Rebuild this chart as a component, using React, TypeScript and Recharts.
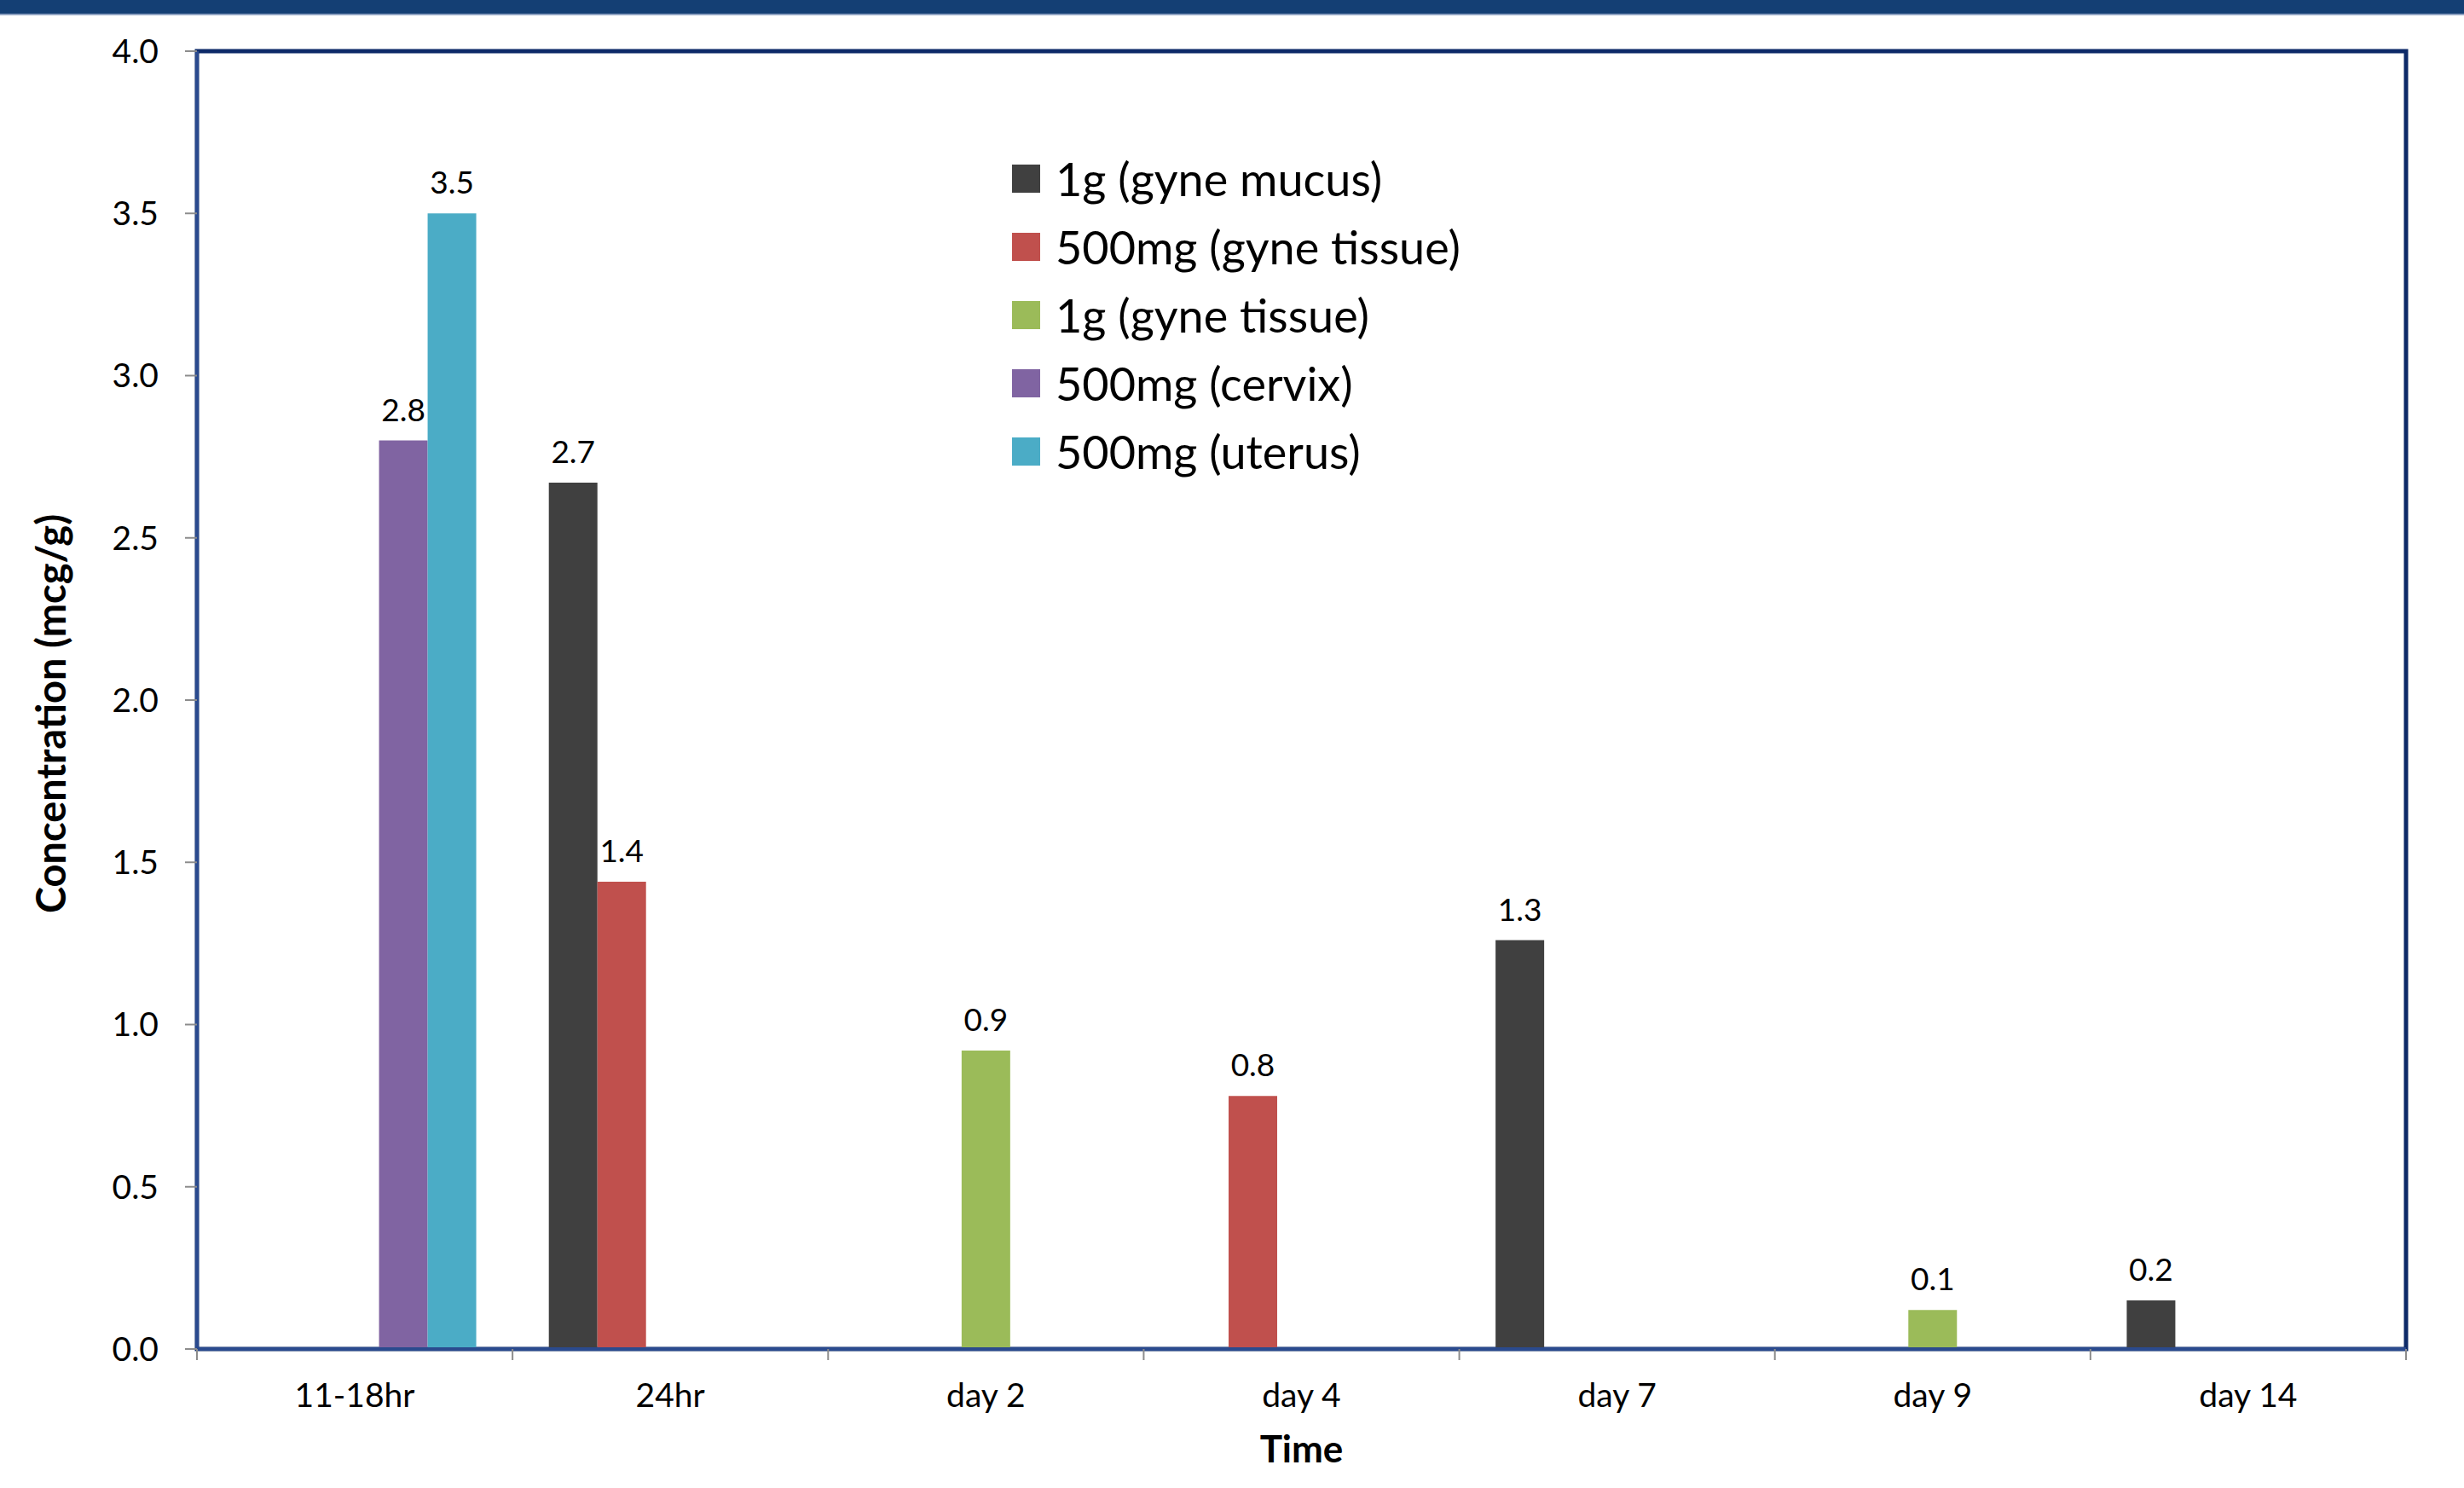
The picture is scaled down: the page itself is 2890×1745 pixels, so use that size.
import React from 'react';
import { BarChart, Bar, XAxis, YAxis, Legend, LabelList, ReferenceArea } from 'recharts';

const times = ['11-18hr', '24hr', 'day 2', 'day 4', 'day 7', 'day 9', 'day 14'];

const gyneMucus1g = [null, 2.67, null, null, 1.26, null, 0.15];
const gyneTissue500mg = [null, 1.44, null, 0.78, null, null, null];
const gyneTissue1g = [null, null, 0.92, null, null, 0.12, null];
const cervix500mg = [2.8, null, null, null, null, null, null];
const uterus500mg = [3.5, null, null, null, null, null, null];

const seriesKeys = ['mucus1g', 'tissue500mg', 'tissue1g', 'cervix500mg', 'uterus500mg'];
const seriesNames = [
  '1g (gyne mucus)',
  '500mg (gyne tissue)',
  '1g (gyne tissue)',
  '500mg (cervix)',
  '500mg (uterus)',
];
const seriesColors = ['#404040', '#C0504D', '#9BBB59', '#8064A2', '#4BACC6'];
const seriesValues = [gyneMucus1g, gyneTissue500mg, gyneTissue1g, cervix500mg, uterus500mg];

const yTicks = [0, 0.5, 1, 1.5, 2, 2.5, 3, 3.5, 4];

const data = times.map((time, i) => {
  const row: Record<string, any> = { time };
  seriesKeys.forEach((key, s) => {
    row[key] = seriesValues[s][i];
  });
  return row;
});

const FONT = "Lato, 'Open Sans', sans-serif";
const FRAME = '#0D2A68';
const AXIS = '#2A4A8E';
const TICK = '#8C8C8C';
const X_TICK_MARGIN = 40;

const fmtLabel = (v: any) => (v == null ? '' : (Math.round(v * 10) / 10).toFixed(1));

const renderLegend = (props: any) => {
  const items = [...(props.payload || [])].sort(
    (a: any, b: any) => seriesNames.indexOf(a.value) - seriesNames.indexOf(b.value)
  );
  return (
    <div style={{ fontFamily: FONT, fontSize: 54, color: '#000' }}>
      {items.map((entry: any) => (
        <div key={entry.value} style={{ display: 'flex', alignItems: 'center', height: 80 }}>
          <span
            style={{ display: 'inline-block', width: 33, height: 33, background: entry.color, marginRight: 18 }}
          />
          <span>{entry.value}</span>
        </div>
      ))}
    </div>
  );
};

// category label plus Excel-style tick marks on the category boundaries
const CategoryTick = (props: any) => {
  const { x, y, payload, index, visibleTicksCount } = props;
  const half = payload && payload.offset ? payload.offset : 2591 / times.length / 2;
  const axisY = y - X_TICK_MARGIN;
  const last = index === (visibleTicksCount ?? times.length) - 1;
  return (
    <g>
      <line x1={x - half} y1={axisY} x2={x - half} y2={axisY + 13} stroke={TICK} strokeWidth={2} />
      {last && <line x1={x + half} y1={axisY} x2={x + half} y2={axisY + 13} stroke={TICK} strokeWidth={2} />}
      <text x={x} y={y} dy="0.71em" textAnchor="middle" fill="#000" fontSize={39} fontFamily={FONT}>
        {payload.value}
      </text>
    </g>
  );
};

const yTitle = (props: any) => {
  const vb = props.viewBox || { x: 0, y: 60, width: 231, height: 1522 };
  const cx = vb.x + 59;
  const cy = vb.y + vb.height / 2 + 16;
  return (
    <text
      x={cx}
      y={cy}
      transform={`rotate(-90 ${cx} ${cy})`}
      textAnchor="middle"
      dominantBaseline="central"
      fontFamily={FONT}
      fontWeight="bold"
      fontSize={47}
      fill="#000"
    >
      Concentration (mcg/g)
    </text>
  );
};

const xTitle = (props: any) => {
  const vb = props.viewBox || { x: 231, y: 1582, width: 2591, height: 163 };
  return (
    <text
      x={vb.x + vb.width / 2}
      y={vb.y + 133}
      textAnchor="middle"
      fontFamily={FONT}
      fontWeight="bold"
      fontSize={44}
      fill="#000"
    >
      Time
    </text>
  );
};

export default function App() {
  return (
    <div
      style={{
        position: 'absolute',
        left: 0,
        top: 0,
        width: 2890,
        height: 1745,
        background: '#fff',
        fontFamily: FONT,
      }}
    >
      <div
        style={{
          position: 'absolute',
          left: 0,
          top: 0,
          width: 2890,
          height: 16,
          background: '#143F74',
          borderBottom: '2px solid #8FA3C2',
        }}
      />
      <BarChart
        width={2890}
        height={1745}
        data={data}
        margin={{ top: 60, right: 68, left: 0, bottom: 0 }}
        barCategoryGap="11.5%"
        barGap={0}
      >
        <ReferenceArea y1={0} y2={4} fill="none" stroke={FRAME} strokeWidth={5} ifOverflow="visible" />
        <XAxis
          dataKey="time"
          height={163}
          interval={0}
          tickSize={0}
          tickMargin={X_TICK_MARGIN}
          tickLine={false}
          axisLine={{ stroke: AXIS, strokeWidth: 4 }}
          tick={<CategoryTick />}
          label={xTitle}
        />
        <YAxis
          domain={[0, 4]}
          ticks={yTicks}
          interval={0}
          allowDataOverflow
          width={231}
          tickSize={14}
          tickMargin={31}
          axisLine={{ stroke: AXIS, strokeWidth: 4 }}
          tickLine={{ stroke: TICK, strokeWidth: 2 }}
          tick={{ fill: '#000', fontSize: 39, fontFamily: FONT }}
          tickFormatter={(v: number) => v.toFixed(1)}
          label={yTitle}
        />
        <Legend
          layout="vertical"
          align="center"
          verticalAlign="middle"
          itemSorter={null as any}
          content={renderLegend}
          wrapperStyle={{ left: 1187, top: 169, width: 900 }}
        />
        {seriesKeys.map((key, s) => (
          <Bar key={key} dataKey={key} name={seriesNames[s]} fill={seriesColors[s]} isAnimationActive={false}>
            <LabelList
              dataKey={key}
              position="top"
              offset={23}
              formatter={fmtLabel}
              fill="#000"
              fontSize={37}
              fontFamily={FONT}
            />
          </Bar>
        ))}
      </BarChart>
    </div>
  );
}
